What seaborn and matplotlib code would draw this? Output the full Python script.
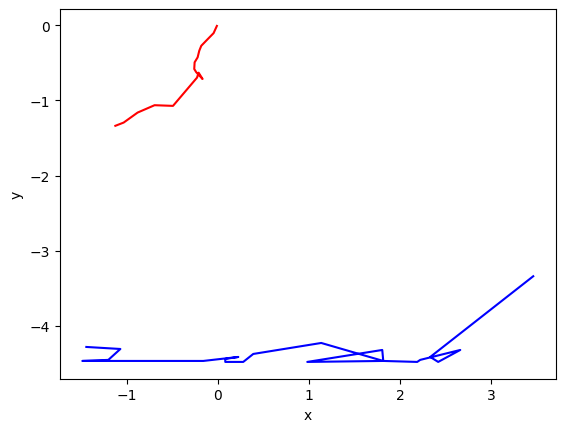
import matplotlib
matplotlib.use("Agg")
import matplotlib.pyplot as plt
import seaborn as sns
import pandas as pd

# red trajectory
red_x = [-0.01, -0.046, -0.118, -0.181, -0.203, -0.221, -0.254, -0.258, -0.236,
         -0.167, -0.210, -0.228, -0.491, -0.693, -0.879, -1.032, -1.123]
red_y = [-0.01, -0.106, -0.195, -0.274, -0.340, -0.428, -0.494, -0.583, -0.626,
         -0.715, -0.632, -0.698, -1.073, -1.064, -1.162, -1.295, -1.338]

# blue trajectory
blue_x = [-1.441, -1.068, -1.200, -1.485, -0.159, 0.225, 0.082, 0.082, 0.279,
          0.389, 1.134, 1.814, 0.981, 1.803, 1.814, 2.186, 2.219, 2.658,
          2.416, 2.329, 3.458]
blue_y = [-4.278, -4.305, -4.450, -4.464, -4.464, -4.411, -4.437, -4.477, -4.477,
          -4.371, -4.225, -4.464, -4.477, -4.318, -4.464, -4.477, -4.450, -4.318,
          -4.477, -4.411, -3.338]

red = pd.DataFrame({"x": red_x, "y": red_y})
blue = pd.DataFrame({"x": blue_x, "y": blue_y})

f, ax = plt.subplots(figsize=(6.4, 4.8), dpi=100)
sns.lineplot(data=red, x="x", y="y", sort=False, color="red", ax=ax, estimator=None)
sns.lineplot(data=blue, x="x", y="y", sort=False, color="blue", ax=ax, estimator=None)
ax.set_xlabel("x")
ax.set_ylabel("y")

f.savefig("out.png", dpi=100, bbox_inches="tight")
